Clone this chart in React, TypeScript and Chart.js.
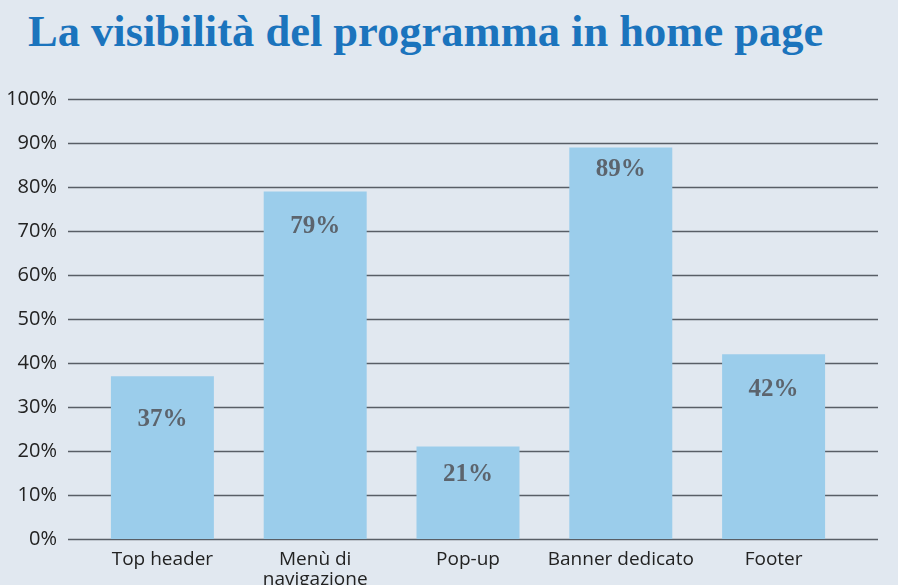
import React, { useEffect, useRef } from "react";
import { Chart, registerables } from "chart.js";

Chart.register(...registerables);

const TITLE = "La visibilità del programma in home page";
const categories: (string | string[])[] = [
  "Top header",
  ["Menù di", "navigazione"],
  "Pop-up",
  "Banner dedicato",
  "Footer",
];
const values = [37, 79, 21, 89, 42];
const yTicks = [0, 10, 20, 30, 40, 50, 60, 70, 80, 90, 100];
// vertical offset of each value label below its bar top (px)
const labelOffsets = [43, 35, 28, 22, 35];

const BG = "#e1e8f0";
const BAR = "#9bcdeb";
const GRID = "#585e66";
const TITLE_COLOR = "#1b74bd";
const LABEL_COLOR = "#5c646d";
const SANS = "'Open Sans', 'Noto Sans', sans-serif";
const SERIF = "'Liberation Serif', 'DejaVu Serif', serif";

const gridPlugin = {
  id: "wideGrid",
  beforeDatasetsDraw(chart: any) {
    const ctx = chart.ctx;
    const y = chart.scales.y;
    ctx.save();
    ctx.strokeStyle = GRID;
    ctx.lineWidth = 1.3;
    yTicks.forEach((v) => {
      const py = Math.round(y.getPixelForValue(v)) + 0.5;
      ctx.beginPath();
      ctx.moveTo(68, py);
      ctx.lineTo(878, py);
      ctx.stroke();
    });
    ctx.restore();
  },
};

const valueLabelPlugin = {
  id: "valueLabels",
  afterDatasetsDraw(chart: any) {
    const ctx = chart.ctx;
    const meta = chart.getDatasetMeta(0);
    ctx.save();
    ctx.fillStyle = LABEL_COLOR;
    ctx.font = `bold 25px ${SERIF}`;
    ctx.textAlign = "center";
    ctx.textBaseline = "middle";
    meta.data.forEach((bar: any, i: number) => {
      ctx.fillText(`${values[i]}%`, bar.x, bar.y + labelOffsets[i]);
    });
    ctx.restore();
  },
};

export default function App() {
  const canvasRef = useRef<HTMLCanvasElement | null>(null);

  useEffect(() => {
    if (!canvasRef.current) return;
    const chart = new Chart(canvasRef.current, {
      type: "bar",
      data: {
        labels: categories,
        datasets: [
          {
            data: values,
            backgroundColor: BAR,
            borderWidth: 0,
            categoryPercentage: 1,
            barPercentage: 0.674,
          },
        ],
      },
      options: {
        animation: false,
        responsive: false,
        maintainAspectRatio: false,
        layout: { padding: { left: 0, right: 48, top: 99, bottom: 0 } },
        plugins: {
          legend: { display: false },
          tooltip: { enabled: false },
          title: { display: false },
        },
        scales: {
          x: {
            grid: { display: false, drawTicks: false },
            border: { display: false },
            ticks: {
              color: "#222222",
              font: { family: SANS, size: 19, lineHeight: 1.05 },
              padding: 11,
              maxRotation: 0,
              autoSkip: false,
            },
            afterFit: (scale: any) => {
              scale.height = 46;
            },
          },
          y: {
            min: 0,
            max: 100,
            grid: { display: false, drawTicks: false },
            border: { display: false },
            ticks: {
              stepSize: 10,
              color: "#222222",
              font: { family: SANS, size: 20 },
              padding: 29,
              callback: (v: any) => `${v}%`,
            },
            afterFit: (scale: any) => {
              scale.width = 86;
            },
          },
        },
      },
      plugins: [gridPlugin, valueLabelPlugin],
    });
    return () => chart.destroy();
  }, []);

  return (
    <div
      style={{
        position: "absolute",
        left: 0,
        top: 0,
        width: 898,
        height: 585,
        background: BG,
        overflow: "hidden",
      }}
    >
      <div
        style={{
          position: "absolute",
          left: 28,
          top: 9,
          fontFamily: SERIF,
          fontWeight: "bold",
          fontSize: 44.5,
          lineHeight: "44px",
          color: TITLE_COLOR,
          whiteSpace: "nowrap",
        }}
      >
        {TITLE}
      </div>
      <canvas
        ref={canvasRef}
        width={898}
        height={585}
        style={{ position: "absolute", left: 0, top: 0, width: 898, height: 585 }}
      />
    </div>
  );
}
